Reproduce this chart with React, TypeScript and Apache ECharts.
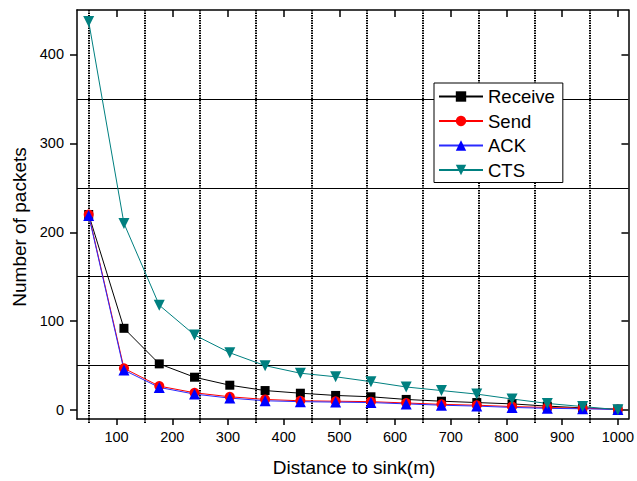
import React, { useEffect, useRef } from 'react';
import * as echarts from 'echarts';

// distances to sink (m)
const distances = [50, 113.3, 176.7, 240, 303.3, 366.7, 430, 493.3, 556.7, 620, 683.3, 746.7, 810, 873.3, 936.7, 1000];
// number of packets per series
const receive = [220, 92, 52, 37, 28, 22, 19, 16.5, 15, 12, 10, 8.5, 7, 4.5, 2.5, 1];
const send = [220, 47, 27, 19.5, 15, 12, 10.5, 10, 9.5, 8, 6.5, 5.5, 4, 3, 2, 1];
const ack = [219, 45, 25.5, 18, 13.5, 10.5, 9.5, 9, 8.5, 7, 5.5, 4.5, 3, 2, 1.5, 0.8];
const cts = [437, 210, 118, 84.5, 64.5, 50, 41.5, 37.5, 32, 26, 22, 18, 12.5, 7.5, 4, 0.5];

// axis ticks / grid positions
const xTickValues = [100, 200, 300, 400, 500, 600, 700, 800, 900, 1000];
const xGridValues = [50, 150, 250, 350, 450, 550, 650, 750, 850, 950];
const yTickValues = [0, 100, 200, 300, 400];
const yGridValues = [50, 150, 250, 350];

const FONT = '"Liberation Sans", Arial, Helvetica, sans-serif';
const X_MIN = 29;
const X_MAX = 1019;
const Y_MIN = -10;
const Y_MAX = 450;

function makeSeries(name: string, values: number[], color: string, lineColor: string, symbol: string, size: number, rotate = 0) {
  return {
    type: 'line',
    name,
    xAxisIndex: 0,
    yAxisIndex: 0,
    data: distances.map((d, i) => [d, values[i]]),
    symbol,
    symbolSize: size,
    symbolRotate: rotate,
    showAllSymbol: true,
    lineStyle: { color: lineColor, width: 1 },
    itemStyle: { color },
    emphasis: { disabled: true },
    clip: false,
  };
}

export default function App() {
  const ref = useRef<HTMLDivElement>(null);
  useEffect(() => {
    if (!ref.current) return;
    const chart = echarts.init(ref.current, undefined, { renderer: 'svg' });
    const axisLine = { show: true, onZero: false, lineStyle: { color: '#000', width: 1.5 } };
    const plain = (v: number) => String(v);
    chart.setOption({
      animation: false,
      backgroundColor: '#fff',
      textStyle: { fontFamily: FONT, color: '#000' },
      grid: { left: 77, right: 7, top: 10, bottom: 62, containLabel: false },
      legend: {
        left: 434,
        top: 83,
        orient: 'vertical',
        itemWidth: 44,
        itemHeight: 13,
        itemGap: 5.5,
        padding: [4, 8, 3, 4],
        backgroundColor: '#fff',
        borderColor: '#000',
        borderWidth: 1,
        borderRadius: 0,
        textStyle: { fontSize: 18.5, fontFamily: FONT, color: '#000' },
        data: ['Receive', 'Send', 'ACK', 'CTS'],
        selectedMode: false,
      },
      xAxis: [
        {
          type: 'value', position: 'bottom', min: X_MIN, max: X_MAX,
          axisLine,
          axisTick: { show: true, inside: false, length: 6, customValues: xTickValues, lineStyle: { color: '#000', width: 1.5 } },
          axisLabel: { show: true, customValues: xTickValues, formatter: plain, fontSize: 14.5, fontFamily: FONT, color: '#000', margin: 10 },
          splitLine: { show: false },
        },
        {
          type: 'value', position: 'bottom', min: X_MIN, max: X_MAX,
          axisLine: { show: false, onZero: false },
          axisTick: { show: true, inside: false, length: 5, customValues: xGridValues, lineStyle: { color: '#000', width: 2, type: [1.5, 1] } },
          axisLabel: { show: false },
          splitLine: { show: true, lineStyle: { color: '#000', width: 2, type: [1.5, 1] } },
        },
        {
          type: 'value', position: 'top', min: X_MIN, max: X_MAX,
          axisLine,
          axisTick: { show: true, inside: true, length: 7, customValues: xTickValues, lineStyle: { color: '#000', width: 1.5 } },
          axisLabel: { show: false },
          splitLine: { show: false },
        },
      ],
      yAxis: [
        {
          type: 'value', position: 'left', min: Y_MIN, max: Y_MAX,
          axisLine,
          axisTick: { show: true, inside: false, length: 7, customValues: yTickValues, lineStyle: { color: '#000', width: 1.5 } },
          axisLabel: { show: true, customValues: yTickValues, formatter: plain, fontSize: 14.5, fontFamily: FONT, color: '#000', margin: 13 },
          splitLine: { show: false },
        },
        {
          type: 'value', position: 'left', min: Y_MIN, max: Y_MAX,
          axisLine: { show: false, onZero: false },
          axisTick: { show: false, customValues: yGridValues },
          axisLabel: { show: false },
          splitLine: { show: true, lineStyle: { color: '#000', width: 1.2, type: 'solid' } },
        },
        {
          type: 'value', position: 'right', min: Y_MIN, max: Y_MAX,
          axisLine,
          axisTick: { show: true, inside: true, length: 7, customValues: yTickValues, lineStyle: { color: '#000', width: 1.5 } },
          axisLabel: { show: false },
          splitLine: { show: false },
        },
      ],
      graphic: [
        {
          type: 'text', x: 19, y: 227, rotation: Math.PI / 2,
          style: { text: 'Number of packets', fontSize: 19, fontFamily: FONT, fill: '#000', align: 'center', verticalAlign: 'middle' },
        },
        {
          type: 'text', x: 354, y: 467,
          style: { text: 'Distance to sink(m)', fontSize: 19, fontFamily: FONT, fill: '#000', align: 'center', verticalAlign: 'middle' },
        },
      ],
      series: [
        makeSeries('Receive', receive, '#000000', '#000000', 'rect', 9),
        makeSeries('Send', send, '#ff0000', '#ff0000', 'circle', 10),
        makeSeries('ACK', ack, '#0000ff', '#2a2aff', 'triangle', 11),
        makeSeries('CTS', cts, '#008080', '#008080', 'triangle', 11, 180),
      ],
    });
    return () => chart.dispose();
  }, []);
  return <div ref={ref} style={{ position: 'fixed', left: 0, top: 0, width: 637, height: 481, background: '#fff' }} />;
}
